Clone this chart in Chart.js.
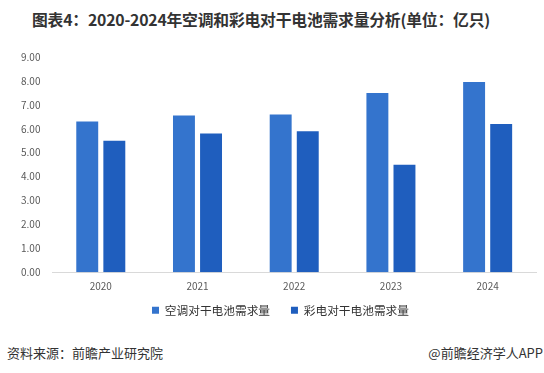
<!DOCTYPE html>
<html>
<head>
<meta charset="utf-8">
<script src="https://cdn.jsdelivr.net/npm/chart.js@4/dist/chart.umd.min.js"></script>
<style>
  html, body { margin: 0; padding: 0; background: #fff; }
  body { width: 544px; height: 373px; position: relative; overflow: hidden;
         font-family: "Microsoft YaHei", "Noto Sans CJK SC", sans-serif; }
  #title { position: absolute; top: 8px; left: -22px; width: 566px; text-align: center;
           font-size: 15.8px; font-weight: bold; color: #333; letter-spacing: -0.2px; }
  #wrap { position: absolute; left: 0; top: 39px; width: 544px; height: 287px; }
  .foot { position: absolute; top: 343px; font-size: 13px; color: #333; }
  #src { left: 7px; }
  #app { right: 1px; }
</style>
</head>
<body>
<div id="title">图表4：2020-2024年空调和彩电对干电池需求量分析(单位：亿只)</div>
<div id="wrap"><canvas id="chart"></canvas></div>
<div class="foot" id="src">资料来源：前瞻产业研究院</div>
<div class="foot" id="app">@前瞻经济学人APP</div>
<script>
/* ── Données ─────────────────────────────────────────── */
const years       = ['2020', '2021', '2022', '2023', '2024'];
const acDemand    = [6.3, 6.55, 6.6, 7.5, 7.95];   // 空调对干电池需求量
const tvDemand    = [5.5, 5.8, 5.9, 4.5, 6.2];     // 彩电对干电池需求量
const seriesNames = ['空调对干电池需求量', '彩电对干电池需求量'];
const yTicks      = ['0.00', '1.00', '2.00', '3.00', '4.00', '5.00', '6.00', '7.00', '8.00', '9.00'];

const FONT = '"Microsoft YaHei", "Noto Sans CJK SC", sans-serif';

// décale la légende un peu vers la droite (comme l'original)
const legendShift = {
  id: 'legendShift',
  afterLayout(chart) {
    const lg = chart.legend;
    if (lg) { lg.left += 8; lg.right += 8; }
  },
};

new Chart(document.getElementById('chart'), {
  type: 'bar',
  data: {
    labels: years,
    datasets: [
      { label: seriesNames[0], data: acDemand, backgroundColor: '#3474cd',
        categoryPercentage: 0.56, barPercentage: 0.81 },
      { label: seriesNames[1], data: tvDemand, backgroundColor: '#1f5ebe',
        categoryPercentage: 0.56, barPercentage: 0.81 },
    ],
  },
  options: {
    responsive: true,
    maintainAspectRatio: false,
    animation: false,
    layout: { padding: { left: 9, right: 8, top: 4, bottom: 0 } },
    plugins: {
      legend: {
        position: 'bottom',
        labels: {
          boxWidth: 7, boxHeight: 7, padding: 4,
          color: '#333', font: { family: FONT, size: 11.7 },
          // petit espace après le 1er item (écart entre les deux entrées)
          generateLabels: chart => Chart.defaults.plugins.legend.labels.generateLabels(chart)
            .map((l, i) => ({ ...l, text: i === 0 ? l.text + '\u3000  ' : l.text })),
        },
      },
      tooltip: { enabled: false },
    },
    scales: {
      x: {
        grid: { display: false, drawTicks: false },
        border: { color: '#d9d9d9', width: 1 },
        ticks: { color: '#595959', font: { family: FONT, size: 10 }, padding: 8 },
      },
      y: {
        min: 0, max: 9,
        grid: { display: false, drawTicks: false },
        border: { display: false },
        ticks: {
          stepSize: 1, color: '#595959', padding: 12,
          font: { family: FONT, size: 10 },
          callback: (v, i) => yTicks[i],
        },
      },
    },
  },
  plugins: [legendShift],
});
</script>
</body>
</html>
